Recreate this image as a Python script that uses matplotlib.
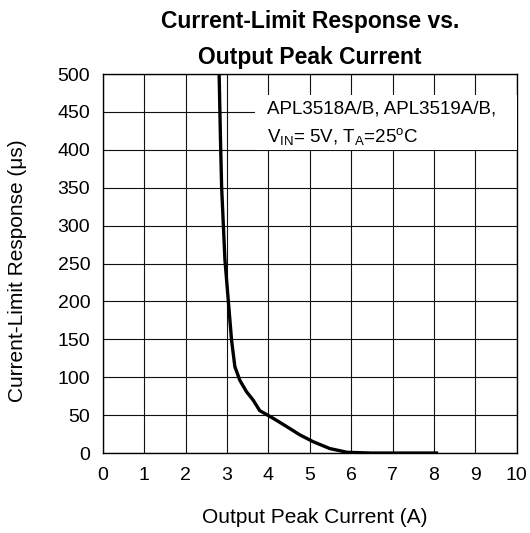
import matplotlib
matplotlib.use('Agg')
import matplotlib.pyplot as plt
from matplotlib.patches import Rectangle

# curve
current_a = [2.81, 2.84, 2.87, 2.95, 3.03, 3.11, 3.19, 3.31, 3.47, 3.63, 3.79,
             4.11, 4.44, 4.76, 5.08, 5.48, 5.9, 6.5, 7.5, 8.1]
response_us = [500, 420, 351, 255, 202, 149, 114, 96, 81, 70, 56,
               46, 35, 24, 15, 6, 1, 0, 0, 0]

x_ticks = list(range(0, 11))
y_ticks = list(range(0, 501, 50))

plt.rcParams['font.family'] = ['Liberation Sans', 'DejaVu Sans']

fig = plt.figure(figsize=(5.3, 5.33), dpi=100)
ax = fig.add_axes([0.194, 0.150, 0.781, 0.711])

ax.plot(current_a, response_us, color='black', lw=2.4, solid_capstyle='butt', zorder=3)

ax.set_xlim(0, 10)
ax.set_ylim(0, 500)
ax.set_xticks(x_ticks)
ax.set_yticks(y_ticks)
ax.tick_params(length=0, labelsize=14)
ax.tick_params(axis='y', pad=9)
ax.tick_params(axis='x', pad=10)
ax.grid(True, color='#111111', lw=0.8)
for s in ax.spines.values():
    s.set_linewidth(1.0)

ax.set_xlabel('Output Peak Current (A)', fontsize=15)
ax.xaxis.label.set_va('center')
ax.xaxis.set_label_coords(0.512, -0.171)
ax.set_ylabel('Current-Limit Response (\u03bcs)', fontsize=15)
ax.yaxis.label.set_va('center')
ax.yaxis.set_label_coords(-0.205, 0.48)

fig.text(0.585, 0.959, 'Current-Limit Response vs.', ha='center', va='center',
         fontsize=16.5, fontweight='bold')
fig.text(0.585, 0.893, 'Output Peak Current', ha='center', va='center',
         fontsize=16.5, fontweight='bold')

# white label box covering the grid
ax.add_patch(Rectangle((0.367, 0.80), 0.633, 0.145, transform=ax.transAxes,
                       facecolor='white', edgecolor='none', zorder=4))
ax.text(0.396, 0.908, 'APL3518A/B, APL3519A/B,', transform=ax.transAxes,
        ha='left', va='center', fontsize=13.5, zorder=5)
ax.text(0.396, 0.836, '$\\mathregular{V_{IN}}$= 5V, $\\mathregular{T_A}$=25$\\mathregular{^o}$C',
        transform=ax.transAxes, ha='left', va='center', fontsize=13.5, zorder=5)

fig.savefig('out.png', dpi=100)
